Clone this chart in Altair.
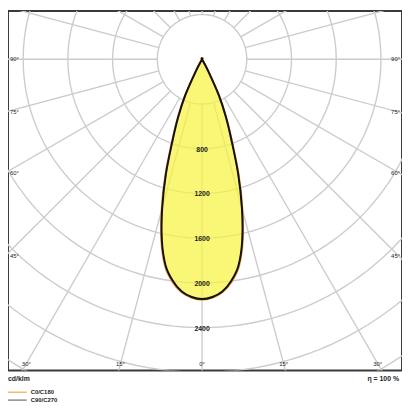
import altair as alt
import pandas as pd
import numpy as np

# ---- luminous intensity data (cd/klm) ----
gamma = [0, 2.5, 5, 7.5, 10, 12.5, 15, 17.5, 20, 22.5, 25, 27.5, 30,
         35, 40, 45, 50, 55, 60, 65, 70, 75, 80, 85, 90]
c0_c180 = [2150, 2134, 2092, 2010, 1888, 1676, 1396, 1090, 782, 562, 360, 125, 0,
           0, 0, 0, 0, 0, 0, 0, 0, 0, 0, 0, 0]
c90_c270 = [2145, 2128, 2085, 2000, 1875, 1660, 1378, 1075, 770, 555, 357, 122, 0,
            0, 0, 0, 0, 0, 0, 0, 0, 0, 0, 0, 0]

planes = ["C0/C180", "C90/C270"]
grid_radii = [400, 800, 1200, 1600, 2000, 2400, 2800, 3200]
grid_angles = list(range(0, 360, 15))
value_labels = [800, 1200, 1600, 2000, 2400]
side_angles = [90, 75, 60, 45]
bottom_angles = [-30, -15, 0, 15, 30]
unit_text = "cd/klm"
eta_text = "η = 100 %"

# ---- geometry of the view ----
W, H = 400, 365
S = 0.1135          # pixels per cd/klm
CX, CY = 197, 49    # pole position in plot pixels
xdom = [-CX / S, (W - CX) / S]
ydom = [-(H - CY) / S, CY / S]
xs = alt.Scale(domain=xdom, nice=False, zero=False)
ys = alt.Scale(domain=ydom, nice=False, zero=False)

GRID = "#cccccc"
FONT = "Liberation Sans"

# curve table (both half planes, signed angle for drawing order)
rows = []
for pl, vals in zip(planes, [c0_c180, c90_c270]):
    for g, v in zip(gamma, vals):
        rows.append({"plane": pl, "g": -g, "I": v})
        rows.append({"plane": pl, "g": g, "I": v})
curve = pd.DataFrame(rows).drop_duplicates(subset=["plane", "g"])

circ = pd.DataFrame([{"r": r, "t": t} for r in grid_radii for t in range(0, 361, 2)])
spokes = pd.DataFrame({"a": grid_angles})
vlab = pd.DataFrame({"r": value_labels, "txt": [str(v) for v in value_labels]})

side_rows = []
for a in side_angles:
    yy = -(200 / S) * np.cos(np.radians(a)) / np.sin(np.radians(a))
    side_rows.append({"x": (2 - CX) / S, "y": yy, "txt": f"{a}°", "side": "l"})
    side_rows.append({"x": (W - 2 - CX) / S, "y": yy, "txt": f"{a}°", "side": "r"})
side = pd.DataFrame(side_rows)
bot = pd.DataFrame({
    "x": [(309 / S) * np.tan(np.radians(a)) for a in bottom_angles],
    "y": [-309 / S] * len(bottom_angles),
    "txt": [f"{abs(a)}°" for a in bottom_angles],
})

X = lambda f: alt.X(f, type="quantitative", scale=xs, axis=None)
Y = lambda f: alt.Y(f, type="quantitative", scale=ys, axis=None)

circles = alt.Chart(circ).transform_calculate(
    cx="datum.r * sin(datum.t * PI / 180)",
    cy="-datum.r * cos(datum.t * PI / 180)",
).mark_line(stroke=GRID, strokeWidth=1.4, clip=True).encode(
    x=X("cx"), y=Y("cy"), detail="r:N", order="t:Q")

spoke_lines = alt.Chart(spokes).transform_calculate(
    x1="400 * sin(datum.a * PI / 180)",
    y1="-400 * cos(datum.a * PI / 180)",
    x2="3800 * sin(datum.a * PI / 180)",
    y2="-3800 * cos(datum.a * PI / 180)",
).mark_rule(stroke=GRID, strokeWidth=1.4, clip=True).encode(
    x=X("x1"), y=Y("y1"), x2="x2:Q", y2="y2:Q")

curve_xy = alt.Chart(curve).transform_calculate(
    px="datum.I * sin(datum.g * PI / 180)",
    py="-datum.I * cos(datum.g * PI / 180)",
)

fill_c0 = curve_xy.transform_filter(alt.datum.plane == "C0/C180").mark_line(
    fill="#f8f241", fillOpacity=0.72, stroke="#f0a040", strokeWidth=2.2,
    interpolate="cardinal").encode(x=X("px"), y=Y("py"), order="g:Q")

line_c90 = curve_xy.transform_filter(alt.datum.plane == "C90/C270").mark_line(
    stroke="#111111", strokeWidth=2, interpolate="cardinal").encode(
    x=X("px"), y=Y("py"), order="g:Q")

values = alt.Chart(vlab).transform_calculate(
    vx="0", vy="-datum.r").mark_text(
    font=FONT, fontSize=7, fontWeight="bold", color="#1a1a1a", baseline="middle", dy=1
).encode(x=X("vx"), y=Y("vy"), text="txt:N")

side_l = alt.Chart(side).transform_filter(alt.datum.side == "l").mark_text(
    font=FONT, fontSize=6, color="#222222", align="left", baseline="middle"
).encode(x=X("x"), y=Y("y"), text="txt:N")
side_r = alt.Chart(side).transform_filter(alt.datum.side == "r").mark_text(
    font=FONT, fontSize=6, color="#222222", align="right", baseline="middle"
).encode(x=X("x"), y=Y("y"), text="txt:N")
bottom_l = alt.Chart(bot).mark_text(
    font=FONT, fontSize=6, color="#222222", align="center", baseline="middle"
).encode(x=X("x"), y=Y("y"), text="txt:N")

foot = pd.DataFrame({"txt": [unit_text]})
unit = alt.Chart(foot).mark_text(font=FONT, fontSize=7, fontWeight="bold", color="#222222",
                                 align="left", baseline="middle").encode(
    x=alt.value(0), y=alt.value(H + 9), text="txt:N")
eta = alt.Chart(pd.DataFrame({"txt": [eta_text]})).mark_text(
    font=FONT, fontSize=7, fontWeight="bold", color="#222222",
    align="right", baseline="middle").encode(
    x=alt.value(W - 3), y=alt.value(H + 9), text="txt:N")

leg = pd.DataFrame({"plane": planes, "col": ["#f5a64c", "#6e6e6e"], "yy": [H + 22, H + 30]})
leg_lines = alt.Chart(leg).mark_rule(strokeWidth=1.2).encode(
    x=alt.value(0), x2=alt.value(19), y=alt.Y("yy:Q", scale=None),
    color=alt.Color("col:N", scale=None))
leg_text = alt.Chart(leg).mark_text(font=FONT, fontSize=6, fontWeight="bold", color="#222222",
                                    align="left", baseline="middle").encode(
    x=alt.value(23), y=alt.Y("yy:Q", scale=None), text="plane:N")

chart = alt.layer(
    circles, spoke_lines, fill_c0, line_c90, values, side_l, side_r, bottom_l,
    unit, eta, leg_lines, leg_text
).resolve_scale(y="independent").properties(
    width=W, height=H,
    autosize=alt.AutoSizeParams(type="none"),
    padding={"left": 0, "top": 0, "right": 0, "bottom": 37},
).configure_view(stroke="#3a3a3a", strokeWidth=2)

chart.save("out.html", embed_options={"renderer": "svg", "actions": False})
